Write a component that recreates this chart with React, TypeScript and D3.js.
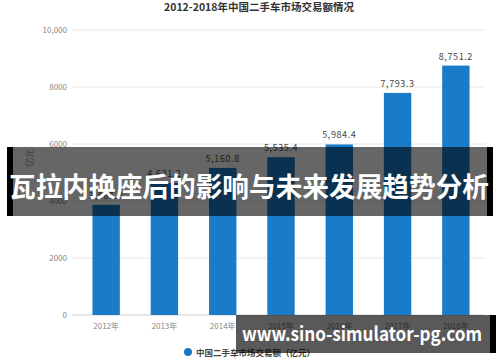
import React from "react";
import * as d3 from "d3";

const years = ["2012年", "2013年", "2014年", "2015年", "2016年", "2017年", "2018年"];
const values = [3865.3, 4631.2, 5160.8, 5535.4, 5984.4, 7793.3, 8751.2];
const yTicks = [0, 2000, 4000, 6000, 8000, 10000];
const title = "2012-2018年中国二手车市场交易额情况";
const legendLabel = "中国二手车市场交易额（亿元）";
const bannerText = "瓦拉内换座后的影响与未来发展趋势分析";
const siteText = "www.sino-simulator-pg.com";

const W = 500;
const H = 362;
const FONT = "'Noto Sans CJK SC', 'Noto Sans', sans-serif";

export default function App() {
  const x = d3.scaleBand<string>().domain(years).range([77, 485]).paddingInner(0.53).paddingOuter(0.265);
  const y = d3.scaleLinear().domain([0, 10000]).range([315, 30]);
  const fmtTick = (v: number) => (v >= 10000 ? d3.format(",")(v) : String(v));
  const fmtVal = d3.format(",.1f");

  return (
    <svg
      width={W}
      height={H}
      style={{ position: "absolute", left: 0, top: 0, background: "#fff" }}
      fontFamily={FONT}
    >
      <rect x={0} y={0} width={W} height={H} fill="#fff" />
      <text x={259} y={11} textAnchor="middle" fontSize={10.5} fontWeight="bold" fill="#333">
        {title}
      </text>
      {yTicks.map((t) => (
        <g key={t}>
          <line x1={72} x2={485} y1={y(t)} y2={y(t)} stroke={t === 0 ? "#cfcfcf" : "#e8e8e8"} strokeWidth={1} />
          <text x={67} y={y(t) + 3} textAnchor="end" fontSize={8} fill="#888">
            {fmtTick(t)}
          </text>
        </g>
      ))}
      <text transform="translate(33,158) rotate(-90)" textAnchor="middle" fontSize={9} fill="#999">
        亿元
      </text>
      {years.map((yr, i) => (
        <g key={yr}>
          <rect x={x(yr)} y={y(values[i])} width={x.bandwidth()} height={y(0) - y(values[i])} fill="#1a7bc9" />
          <text
            x={(x(yr) as number) + x.bandwidth() / 2}
            y={y(values[i]) - 6}
            textAnchor="middle"
            fontSize={9}
            letterSpacing={0.6}
            fill="#444"
          >
            {fmtVal(values[i])}
          </text>
          <text x={(x(yr) as number) + x.bandwidth() / 2} y={329} textAnchor="middle" fontSize={8} fill="#888">
            {yr}
          </text>
        </g>
      ))}
      <circle cx={188} cy={352} r={4} fill="#1a7bc9" />
      <text x={196} y={355.5} fontSize={8.5} fontWeight="bold" fill="#444">
        {legendLabel}
      </text>
      {/* banner overlay */}
      <rect x={7} y={147} width={486} height={69} fill="rgba(0,0,0,0.6)" />
      <rect x={7} y={147} width={6} height={69} fill="#000" />
      <rect x={487} y={147} width={6} height={69} fill="#000" />
      <text x={9} y={197} fontSize={27} fontWeight="bold" fill="#fff" textLength={480} lengthAdjust="spacingAndGlyphs">
        {bannerText}
      </text>
      {/* site overlay */}
      <rect x={236} y={315} width={254} height={38} fill="rgba(0,0,0,0.65)" />
      <rect x={490} y={315} width={6} height={38} fill="#000" />
      <text x={242} y={341} fontSize={19} fontWeight="bold" fill="#fff" textLength={240} lengthAdjust="spacingAndGlyphs">
        {siteText}
      </text>
    </svg>
  );
}
